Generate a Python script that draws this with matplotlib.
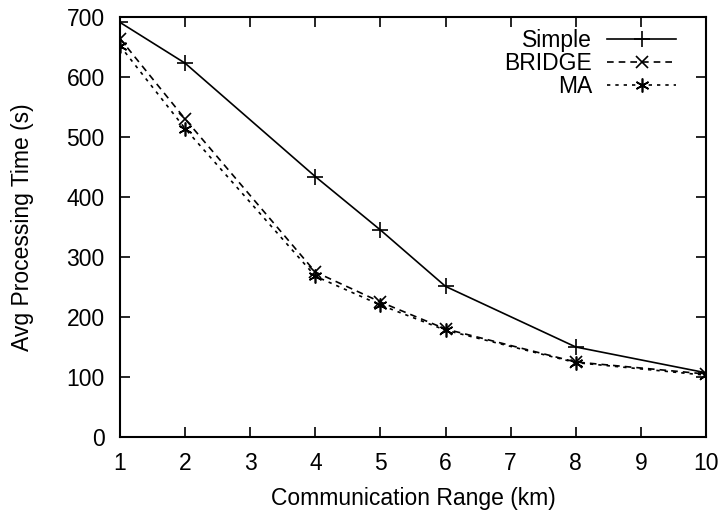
import matplotlib
matplotlib.use("Agg")
import matplotlib.pyplot as plt

x = [1, 2, 4, 5, 6, 8, 10]
simple = [691, 623, 434, 345, 251, 150, 107]
bridge = [664, 530, 275, 225, 180, 125, 105]
ma = [652, 514, 268, 220, 178, 124, 103]

plt.rcParams['font.family'] = ['Liberation Sans', 'DejaVu Sans']
fig = plt.figure(figsize=(7.21, 5.16), dpi=100)
ax = fig.add_axes([120/721, 79/516, 586/721, 420/516])

ax.plot(x, simple, color='black', lw=1.2, ls='-', marker='+', ms=11, mew=1.2, label='Simple')
ax.plot(x, bridge, color='black', lw=1.2, ls=(0, (4, 3)), marker='x', ms=8, mew=1.2, label='BRIDGE')
ax.plot(x, ma, color='black', lw=1.2, ls=(0, (2, 3)), marker=(6, 2, 0), ms=10, mew=1.2, label='MA')

ax.set_xlim(1, 10)
ax.set_ylim(0, 700)
ax.set_xticks(range(1, 11))
ax.set_yticks(range(0, 701, 100))
ax.tick_params(direction='in', length=7, width=1.2, top=True, right=True, labelsize=16.5, pad=11)
for s in ax.spines.values():
    s.set_linewidth(1.5)
ax.set_xlabel('Communication Range (km)', fontsize=16.5)
ax.set_ylabel('Avg Processing Time (s)', fontsize=16.5)
ax.xaxis.set_label_coords(413/721, (516-498)/516, transform=fig.transFigure)
ax.yaxis.set_label_coords(23/721, (516-227)/516, transform=fig.transFigure)
ax.xaxis.label.set_va('center')
ax.yaxis.label.set_va('center')
leg = ax.legend(loc='upper right', frameon=False, markerfirst=False, fontsize=16.5,
                handlelength=3.0, borderaxespad=0, borderpad=0, labelspacing=0.0,
                handletextpad=0.65, bbox_to_anchor=(676/721, (516-29)/516),
                bbox_transform=fig.transFigure)
for t in leg.get_texts():
    t.set_ha('right')
fig.savefig('out.png', dpi=100)
